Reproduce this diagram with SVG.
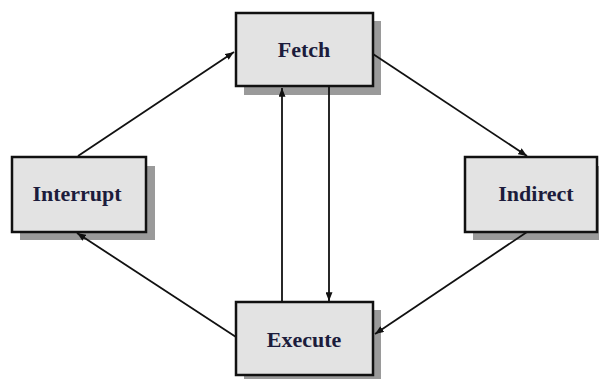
<svg xmlns="http://www.w3.org/2000/svg" width="599" height="379" viewBox="0 0 599 379">
<style>
.shadow{fill:#9a9a9a;stroke:none}
.box{fill:#e3e3e3;stroke:#111;stroke-width:2.5}
.lbl{font-family:"Liberation Serif","Times New Roman",serif;font-weight:bold;font-size:22px;fill:#1c1c3c;text-anchor:middle}
.conn{stroke:#111;stroke-width:1.8;fill:none;marker-end:url(#arr)}
</style>
<defs>
<marker id="arr" viewBox="0 0 10 8" refX="10" refY="4" markerWidth="9" markerHeight="7" markerUnits="userSpaceOnUse" orient="auto">
<path d="M0,0 L10,4 L0,8 Z" fill="#111"/>
</marker>
</defs>
<rect width="599" height="379" fill="#fff"/>
<g id="fetch">
<rect class="shadow" x="244" y="21" width="137" height="74"/>
<rect class="box" x="236" y="13" width="137" height="73"/>
<text class="lbl" x="304" y="57">Fetch</text>
</g>
<g id="interrupt">
<rect class="shadow" x="20" y="166" width="135" height="74"/>
<rect class="box" x="12" y="157" width="134" height="75"/>
<text class="lbl" x="77" y="201">Interrupt</text>
</g>
<g id="indirect">
<rect class="shadow" x="473" y="166" width="135" height="74"/>
<rect class="box" x="465" y="157" width="132" height="75"/>
<text class="lbl" x="536" y="201">Indirect</text>
</g>
<g id="execute">
<rect class="shadow" x="244" y="310" width="137" height="74"/>
<rect class="box" x="236" y="302" width="137" height="73"/>
<text class="lbl" x="304" y="347">Execute</text>
</g>
<g id="connectors">
<line class="conn" x1="78" y1="156" x2="234" y2="52"/>
<line class="conn" x1="373" y1="54" x2="527" y2="156"/>
<line class="conn" x1="527" y1="232" x2="375" y2="334"/>
<line class="conn" x1="236" y1="337" x2="77" y2="233"/>
<line class="conn" x1="282" y1="302" x2="282" y2="88"/>
<line class="conn" x1="329" y1="86" x2="329" y2="301"/>
</g>
</svg>
